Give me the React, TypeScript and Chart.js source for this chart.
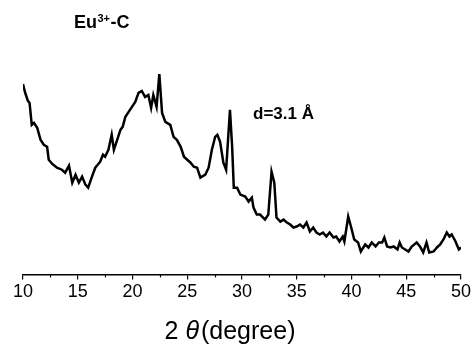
import React, { useEffect, useRef } from 'react';
import { Chart, registerables } from 'chart.js';

Chart.register(...registerables);

// 2θ positions (degree)
const twoTheta = [
  10.0, 10.2, 10.45, 10.6, 10.8, 11.0, 11.3, 11.6, 11.9, 12.2, 12.35, 12.65, 13.1, 13.55, 13.85,
  14.2, 14.5, 14.8, 15.1, 15.4, 15.7, 15.95, 16.3, 16.6, 17.05, 17.3, 17.5, 17.8, 18.1, 18.3,
  18.6, 18.9, 19.1, 19.35, 19.65, 19.95, 20.25, 20.55, 20.85, 21.15, 21.45, 21.7, 21.9, 22.2,
  22.45, 22.7, 23.0, 23.45, 23.75, 24.05, 24.4, 24.7, 25.0, 25.3, 25.6, 25.9, 26.2, 26.65,
  26.95, 27.25, 27.55, 27.75, 28.0, 28.3, 28.55, 28.9, 29.1, 29.25, 29.55, 29.85, 30.3, 30.6,
  30.9, 31.05, 31.35, 31.65, 32.1, 32.4, 32.7, 32.95, 33.15, 33.5, 33.8, 34.1, 34.4, 34.7,
  35.0, 35.3, 35.6, 35.9, 36.2, 36.5, 36.8, 37.1, 37.4, 37.7, 38.0, 38.35, 38.6, 38.9, 39.2,
  39.35, 39.7, 39.95, 40.25, 40.6, 40.85, 41.25, 41.55, 41.85, 42.2, 42.5, 42.8, 43.0, 43.25,
  43.55, 43.85, 44.2, 44.4, 44.6, 44.9, 45.2, 45.5, 45.95, 46.25, 46.55, 46.85, 47.1, 47.5,
  47.8, 48.1, 48.4, 48.7, 48.95, 49.15, 49.5, 49.8, 50.0,
];

// Intensity (a.u.)
const intensity = [
  191, 182, 174, 172, 150, 152, 147, 135, 130, 128, 115, 111, 107, 105, 102,
  109, 92, 100, 92, 98, 90, 87, 98, 107, 113, 120, 118, 125, 140, 125,
  135, 145, 148, 158, 163, 168, 173, 182, 184, 178, 180, 167, 180, 168,
  201, 162, 153, 150, 138, 135, 128, 118, 115, 112, 108, 107, 97, 100,
  107, 125, 138, 140, 133, 112, 105, 165, 128, 87, 87, 80, 78, 73,
  77, 67, 60, 60, 55, 60, 103, 92, 57, 53, 55, 52, 50, 47,
  48, 50, 47, 52, 43, 47, 42, 40, 42, 38, 42, 37, 38, 33, 38,
  33, 58, 48, 35, 32, 23, 30, 27, 32, 28, 32, 32, 37, 28,
  27, 28, 25, 32, 27, 25, 23, 28, 32, 28, 22, 32, 22, 23,
  27, 30, 35, 42, 38, 40, 33, 25, 27,
];

const minorTicks = [12.5, 17.5, 22.5, 27.5, 32.5, 37.5, 42.5, 47.5];
const titleMain = 'Eu';
const titleSup = '3+';
const titleTail = '-C';
const annotation = 'd=3.1 Å';
const axisTitleA = '2 ';
const axisTitleTheta = 'θ';
const axisTitleB = '(degree)';

const FONT = "Arial, 'Liberation Sans', sans-serif";

const textPlugin = {
  id: 'texts',
  afterDraw(chart: any) {
    const ctx = chart.ctx;
    const xs = chart.scales.x;
    ctx.save();
    ctx.fillStyle = '#000';
    ctx.strokeStyle = '#000';
    // minor ticks
    ctx.lineWidth = 1.2;
    for (const v of minorTicks) {
      const px = Math.round(xs.getPixelForValue(v)) + 0.5;
      ctx.beginPath();
      ctx.moveTo(px, xs.top);
      ctx.lineTo(px, xs.top + 3);
      ctx.stroke();
    }
    // title
    ctx.textBaseline = 'alphabetic';
    ctx.textAlign = 'left';
    let x = 74;
    const yb = 28;
    ctx.font = `bold 18px ${FONT}`;
    ctx.fillText(titleMain, x, yb);
    x += ctx.measureText(titleMain).width;
    ctx.font = `bold 11px ${FONT}`;
    ctx.fillText(titleSup, x + 0.5, yb - 6);
    x += ctx.measureText(titleSup).width + 1;
    ctx.font = `bold 18px ${FONT}`;
    ctx.fillText(titleTail, x, yb);
    // annotation
    ctx.font = `bold 17px ${FONT}`;
    ctx.fillText(annotation, 253, 119);
    // axis title
    ctx.font = `25px ${FONT}`;
    const wA = ctx.measureText(axisTitleA).width;
    const wB = ctx.measureText(axisTitleB).width;
    ctx.font = `italic 25px ${FONT}`;
    const wT = ctx.measureText(axisTitleTheta).width + 2;
    const total = wA + wT + wB;
    let ax = 230 - total / 2;
    const ay = 339;
    ctx.font = `25px ${FONT}`;
    ctx.fillText(axisTitleA, ax, ay);
    ax += wA;
    ctx.font = `italic 25px ${FONT}`;
    ctx.fillText(axisTitleTheta, ax, ay);
    ax += wT;
    ctx.font = `25px ${FONT}`;
    ctx.fillText(axisTitleB, ax, ay);
    ctx.restore();
  },
};

export default function App() {
  const ref = useRef<HTMLCanvasElement | null>(null);
  useEffect(() => {
    if (!ref.current) return;
    const chart = new Chart(ref.current, {
      type: 'line',
      data: {
        datasets: [
          {
            data: twoTheta.map((t, i) => ({ x: t, y: intensity[i] })),
            borderColor: '#000',
            borderWidth: 2.5,
            pointRadius: 0,
            tension: 0,
            fill: false,
          },
        ],
      },
      options: {
        animation: false,
        responsive: true,
        maintainAspectRatio: false,
        layout: { padding: { left: 23, right: 14, top: 70, bottom: 49 } },
        plugins: { legend: { display: false }, tooltip: { enabled: false }, title: { display: false } },
        scales: {
          x: {
            type: 'linear',
            min: 10,
            max: 50,
            ticks: { stepSize: 5, color: '#000', font: { family: FONT, size: 18 }, padding: 2, maxRotation: 0 },
            grid: { drawOnChartArea: false, tickLength: 5, color: '#000', lineWidth: 1.2 },
            border: { display: true, color: '#000', width: 1.5 },
          },
          y: { display: false, min: 0, max: 205 },
        },
      },
      plugins: [textPlugin],
    });
    return () => chart.destroy();
  }, []);
  return (
    <div style={{ position: 'absolute', left: 0, top: 0, width: 475, height: 354, background: '#fff' }}>
      <canvas ref={ref} />
    </div>
  );
}
